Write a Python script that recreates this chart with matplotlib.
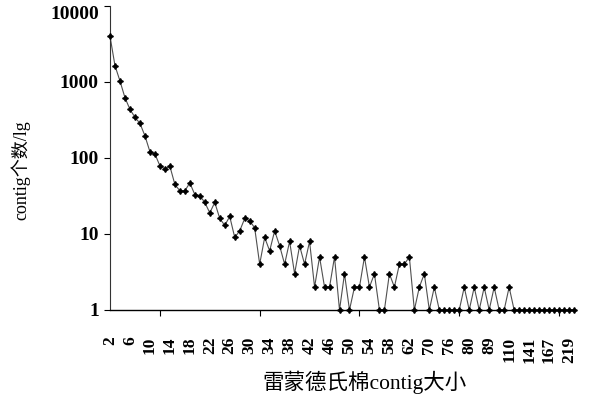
import numpy as np
import matplotlib
matplotlib.use("Agg")
import matplotlib.pyplot as plt
from matplotlib.ticker import FixedLocator, NullFormatter

plt.rcParams['font.family'] = ['Liberation Serif', 'Noto Sans CJK SC', 'DejaVu Sans']

# contig counts per size class (one value per category, in order)
counts = [4000, 1640, 1030, 621, 437, 343, 286, 196, 121, 113,
          79, 72, 78, 45, 37, 37, 47, 33, 32, 26,
          19, 26, 16, 13, 17, 9, 11, 16, 15, 12,
          4, 9, 6, 11, 7, 4, 8, 3, 7, 4,
          8, 2, 5, 2, 2, 5, 1, 3, 1, 2,
          2, 5, 2, 3, 1, 1, 3, 2, 4, 4,
          5, 1, 2, 3, 1, 2, 1, 1, 1, 1,
          1, 2, 1, 2, 1, 2, 1, 2, 1, 1,
          2, 1, 1, 1, 1, 1, 1, 1, 1, 1,
          1, 1, 1, 1]

# labels shown on every 4th category
tick_labels = ['2', '6', '10', '14', '18', '22', '26', '30', '34', '38',
               '42', '46', '50', '54', '58', '62', '70', '76', '80', '89',
               '110', '141', '167', '219']
label_step = 4
tickmark_step = 10

x = np.arange(len(counts))

fig = plt.figure(figsize=(5.91, 3.94), dpi=100)
ax = fig.add_axes([110 / 591, 1 - 310 / 394, 465 / 591, 304 / 394])

ax.plot(x, counts, color='#505050', lw=0.8, zorder=2, clip_on=False)
ax.plot(x, counts, ls='none', marker=(4, 1, 0), ms=4.2, color='black',
        zorder=3, clip_on=False)

ax.set_yscale('log')
ax.set_ylim(1, 10000)
ax.set_xlim(0, len(counts) - 0.8)

ax.yaxis.set_major_locator(FixedLocator([1, 10, 100, 1000, 10000]))
ax.set_yticklabels(['1', '10', '100', '1000', '10000'])
ax.yaxis.set_minor_formatter(NullFormatter())
ax.tick_params(axis='y', which='minor', length=0)
ax.tick_params(axis='y', which='major', length=4, width=0.8, labelsize=14, pad=4)

ax.set_xticks(x[::label_step])
ax.set_xticklabels(tick_labels, rotation=90, fontweight='bold')
ax.set_xticks(x[::tickmark_step], minor=True)
ax.tick_params(axis='x', which='major', length=0, labelsize=12.5, pad=19)
ax.tick_params(axis='x', which='minor', length=4, width=0.8)

for lab in ax.get_yticklabels():
    lab.set_fontweight('bold')
# keep the top label inside the figure
ax.get_yticklabels()[-1].set_verticalalignment('top')

for side in ['top', 'right']:
    ax.spines[side].set_visible(False)
ax.spines['left'].set_color('#333333')
ax.spines['bottom'].set_color('black')
ax.spines['left'].set_linewidth(0.8)
ax.spines['bottom'].set_linewidth(1.0)

fig.text(364 / 591, 1 - 382 / 394, '雷蒙德氏棉contig大小', ha='center', va='center',
         fontsize=15.5)
fig.text(21 / 591, 1 - 170 / 394, 'contig个数/lg', ha='center', va='center',
         rotation=90, fontsize=13)

fig.savefig('out.png', dpi=100)
